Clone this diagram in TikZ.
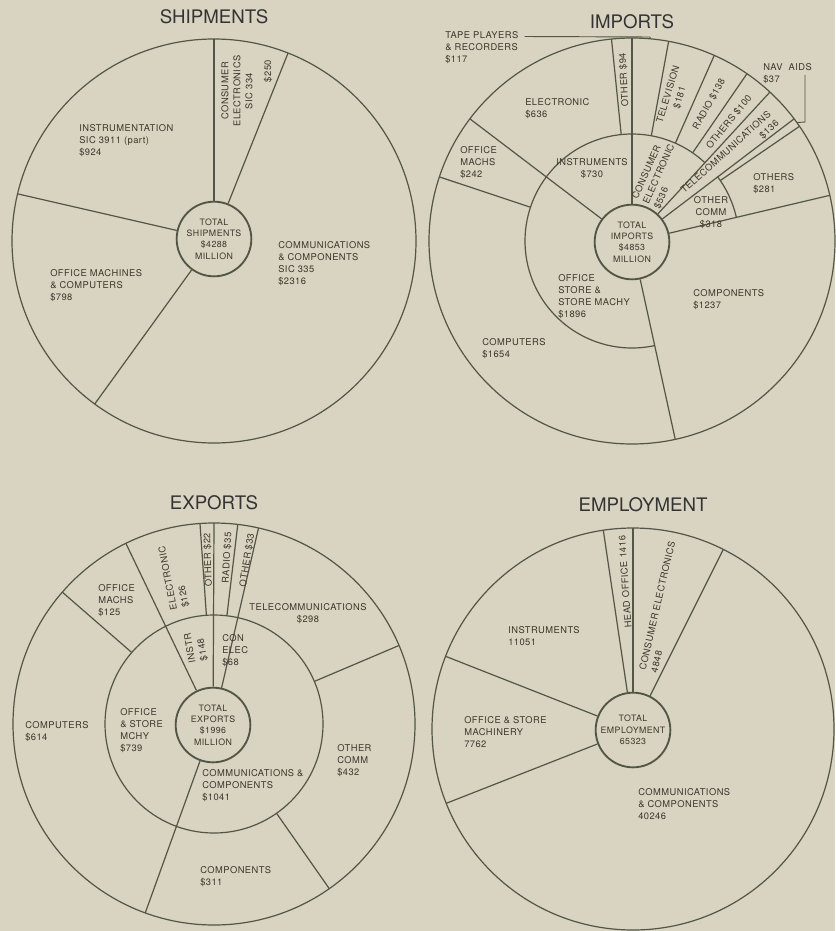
\documentclass[tikz,border=0pt]{standalone}
\usepackage{fontspec}
\setmainfont{TeX Gyre Heros}
\newfontfamily\lblfont[LetterSpace=5]{TeX Gyre Heros}
\definecolor{paper}{RGB}{217,211,193}
\definecolor{ink}{RGB}{82,86,70}
\definecolor{txt}{RGB}{60,54,44}
\begin{document}
\begin{tikzpicture}[x=0.75pt,y=0.75pt,yscale=-1,xscale=1,
  rim/.style={draw=ink,line width=0.9pt},
  hub/.style={circle,draw=ink,line width=1.4pt,minimum size=56pt,inner sep=0pt,align=center,text=txt,font=\lblfont\fontsize{6.6}{8.6}\selectfont},
  lbl/.style={anchor=north west,inner sep=0pt,align=left,text=txt,font=\lblfont\fontsize{7}{9}\selectfont},
  clbl/.style={inner sep=0pt,align=center,text=txt,font=\lblfont\fontsize{7}{9}\selectfont},
  ttl/.style={inner sep=0pt,text=black!80,font=\fontsize{14}{16}\selectfont}]

\fill[paper] (0,0) rectangle (835,931);
\useasboundingbox (0,0) rectangle (835,931);

% Titles
\node[ttl] (ship-title) at (214,17) {SHIPMENTS};
\node[ttl] (imp-title) at (632,22) {IMPORTS};
\node[ttl] (exp-title) at (214,503) {EXPORTS};
\node[ttl] (emp-title) at (643,505) {EMPLOYMENT};

% Totals
\node[hub] (ship-hub) at (214,239) {TOTAL\\SHIPMENTS\\\$4288\\MILLION};
\node[hub] (imp-hub) at (632,242) {TOTAL\\IMPORTS\\\$4853\\MILLION};
\node[hub] (exp-hub) at (213,725) {TOTAL\\EXPORTS\\\$1996\\MILLION};
\node[hub] (emp-hub) at (633,730) {TOTAL\\EMPLOYMENT\\65323};

%Shape: Pie SHIPMENTS
\begin{scope}[shift={(214,241)},yscale=-1]
\draw[rim] (0,0) circle[radius=202];
\draw[rim] (ship-hub) -- (90:202);
\draw[rim] (ship-hub) -- (68.5:202);
\draw[rim] (ship-hub) -- (166.5:202);
\draw[rim] (ship-hub) -- (233.8:202);
\end{scope}

%Shape: Pie IMPORTS
\begin{scope}[shift={(632,241)},yscale=-1]
\draw[rim] (0,0) circle[radius=203];
\draw[rim] (47.2:107) arc[start angle=47.2,end angle=282.3,radius=107];
\draw[rim] (13:107) arc[start angle=13,end angle=37,radius=107];
%Straight Lines through both rings
\draw[rim] (imp-hub) -- (90:203);
\draw[rim] (imp-hub) -- (47.2:203);
\draw[rim] (imp-hub) -- (37:203);
\draw[rim] (imp-hub) -- (13:203);
\draw[rim] (imp-hub) -- (-77.7:203);
\draw[rim] (imp-hub) -- (143:203);
%Straight Lines outer ring
\draw[rim] (95.8:107) -- (95.8:203);
\draw[rim] (79.6:107) -- (79.6:203);
\draw[rim] (66.1:107) -- (66.1:203);
\draw[rim] (55.5:107) -- (55.5:203);
\draw[rim] (34.4:107) -- (34.4:203);
\draw[rim] (161.6:107) -- (161.6:203);
\coordinate (imp-tape) at (84.8:203);
\coordinate (imp-nav) at (35.7:203);
\end{scope}

%Shape: Pie EXPORTS
\begin{scope}[shift={(214,724)},yscale=-1]
\draw[rim] (0,0) circle[radius=201];
\draw[rim] (0,0) circle[radius=109];
\draw[rim] (exp-hub) -- (90:201);
\draw[rim] (exp-hub) -- (116:201);
\draw[rim] (exp-hub) -- (250:201);
\draw[rim] (exp-hub) -- (77.2:201);
\draw[rim] (94:109) -- (94:201);
\draw[rim] (139:109) -- (139:201);
\draw[rim] (305:109) -- (305:201);
\draw[rim] (23:109) -- (23:201);
\draw[rim] (83.2:109) -- (83.2:201);
\end{scope}

%Shape: Pie EMPLOYMENT
\begin{scope}[shift={(633,729)},yscale=-1]
\draw[rim] (0,0) circle[radius=201];
\draw[rim] (emp-hub) -- (90:201);
\draw[rim] (emp-hub) -- (98.5:201);
\draw[rim] (emp-hub) -- (158.8:201);
\draw[rim] (emp-hub) -- (201.7:201);
\draw[rim] (emp-hub) -- (63.3:201);
\end{scope}

% Text Node SHIPMENTS
\node[lbl] (ship-instr) at (79,124.5) {INSTRUMENTATION\\SIC 3911 (part)\\\$924};
\node[clbl,rotate=90] (ship-cons) at (237,91) {CONSUMER\\ELECTRONICS\\SIC 334};
\node[clbl,rotate=90] (ship-cons-val) at (268,71) {\$250};
\node[lbl] (ship-comm) at (278,241.5) {COMMUNICATIONS\\\& COMPONENTS\\SIC 335\\\$2316};
\node[lbl] (ship-office) at (50,269.5) {OFFICE MACHINES\\\& COMPUTERS\\\$798};

% Text Node IMPORTS
\node[lbl] (imp-tapelbl) at (445,31.5) {TAPE PLAYERS\\\& RECORDERS\\\$117};
\node[lbl] (imp-elec) at (525,98.5) {ELECTRONIC\\\$636};
\node[clbl,rotate=93] (imp-oth94) at (624,80) {OTHER \$94};
\node[clbl,rotate=73] (imp-tv) at (674,96) {TELEVISION\\\$181};
\node[clbl,rotate=61] (imp-radio) at (709,104) {RADIO \$138};
\node[clbl,rotate=51] (imp-oth100) at (729,122) {OTHERS \$100};
\node[clbl,rotate=42,align=right] (imp-tele) at (730,157) {TELECOMMUNICATIONS\\\$136};
\node[clbl,rotate=66,align=left] (imp-cons) at (659,174) {CONSUMER\\ELECTRONIC\\\$536};
\node[clbl] (imp-instr) at (592,169) {INSTRUMENTS\\\$730};
\node[lbl] (imp-offm) at (460,146.5) {OFFICE\\MACHS\\\$242};
\node[lbl] (imp-navlbl) at (763,63.5) {NAV\ \ AIDS\\\$37};
\node[lbl] (imp-oth281) at (753,173.5) {OTHERS\\\$281};
\node[clbl] (imp-othcomm) at (711,213) {OTHER\\COMM\\\$318};
\node[lbl] (imp-comp) at (693,289.5) {COMPONENTS\\\$1237};
\node[lbl] (imp-office) at (558,274.5) {OFFICE\\STORE \&\\STORE MACHY\\\$1896};
\node[lbl] (imp-computers) at (482,338.5) {COMPUTERS\\\$1654};

% Leaders
\coordinate (imp-tapeknee) at (650,37);
\draw[rim,line width=0.7pt] (imp-tapelbl.north east) ++(6,5) -- (imp-tapeknee) -- (imp-tape);
\coordinate (imp-navtop) at (805,75);
\coordinate (imp-navknee) at (805,122);
\draw[rim,line width=0.7pt] (imp-navtop) -- (imp-navknee) -- (imp-nav);

% Text Node EXPORTS
\node[lbl] (exp-offm) at (98,584.5) {OFFICE\\MACHS\\\$125};
\node[clbl,rotate=101,align=left] (exp-elec) at (174,577) {ELECTRONIC\\\$126};
\node[clbl,rotate=92] (exp-oth22) at (208,560) {OTHER \$22};
\node[clbl,rotate=87] (exp-radio) at (227,558) {RADIO \$35};
\node[clbl,rotate=81] (exp-oth33) at (247,560) {OTHER \$33};
\node[clbl] (exp-tele) at (308,614) {TELECOMMUNICATIONS\\\$298};
\node[clbl,rotate=100,align=left] (exp-instr) at (196,647) {INSTR\\\$148};
\node[lbl] (exp-con) at (222,634.5) {CON\\ELEC\\\$68};
\node[lbl] (exp-office) at (120,708.5) {OFFICE\\\& STORE\\MCHY\\\$739};
\node[lbl] (exp-computers) at (25,721.5) {COMPUTERS\\\$614};
\node[lbl] (exp-comm) at (202,769.5) {COMMUNICATIONS \&\\COMPONENTS\\\$1041};
\node[lbl] (exp-othcomm) at (337,744.5) {OTHER\\COMM\\\$432};
\node[lbl] (exp-comp) at (200,866.5) {COMPONENTS\\\$311};

% Text Node EMPLOYMENT
\node[clbl,rotate=94] (emp-head) at (625,582) {HEAD OFFICE 1416};
\node[clbl,rotate=77,align=left] (emp-cons) at (663,607) {CONSUMER ELECTRONICS\\4848};
\node[lbl] (emp-instr) at (508,626.5) {INSTRUMENTS\\11051};
\node[lbl] (emp-office) at (464,716.5) {OFFICE \& STORE\\MACHINERY\\7762};
\node[lbl] (emp-comm) at (638,788.5) {COMMUNICATIONS\\\& COMPONENTS\\40246};

\end{tikzpicture}
\end{document}
